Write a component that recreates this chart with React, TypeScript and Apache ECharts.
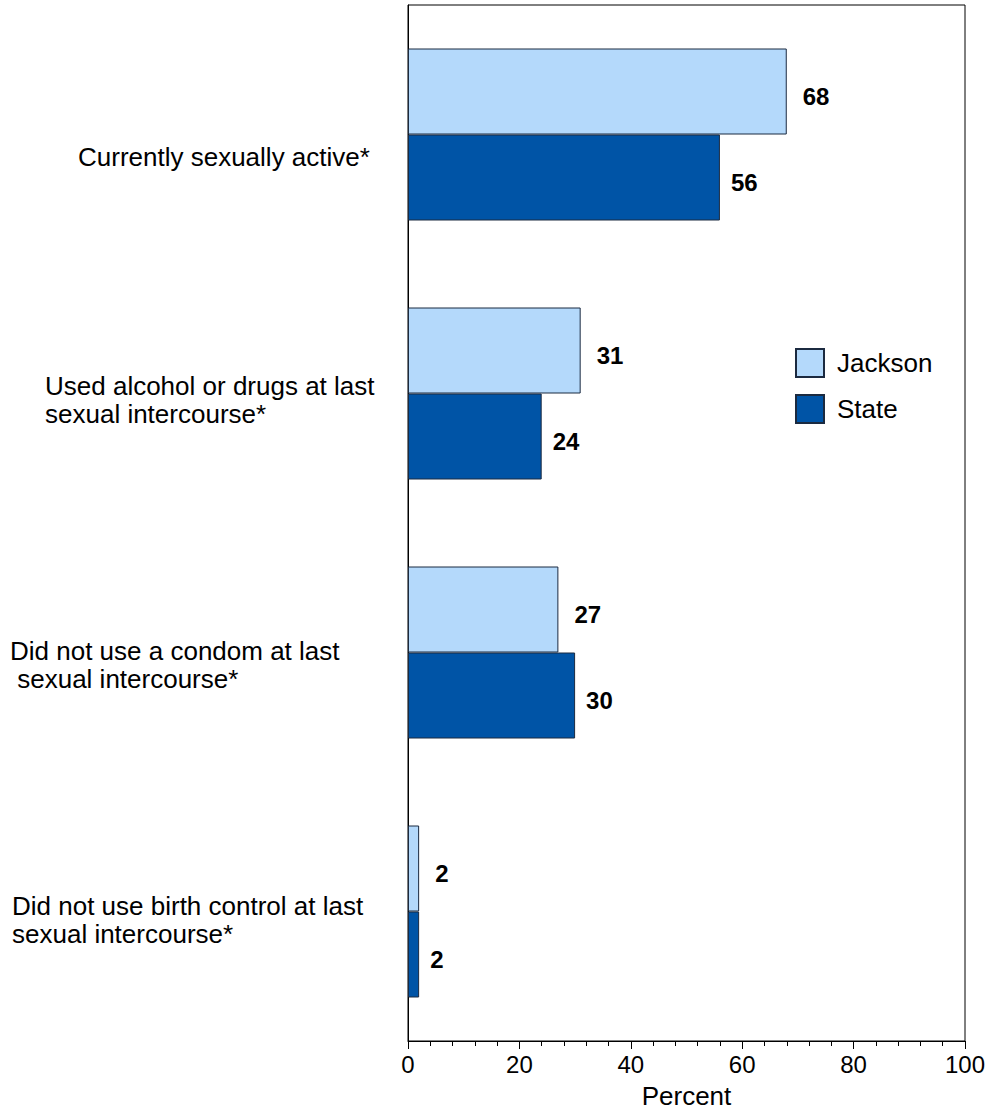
import React, { useEffect, useRef } from "react";
import * as echarts from "echarts";

const categories = [
  "Currently sexually active*",
  "Used alcohol or drugs at last\nsexual intercourse*",
  "Did not use a condom at last\n sexual intercourse*",
  "Did not use birth control at last\nsexual intercourse*",
];
const jacksonValues = [68, 31, 27, 2];
const stateValues = [56, 24, 30, 2];
const seriesNames = ["Jackson", "State"];
const xTicks = [0, 20, 40, 60, 80, 100];

// layout only (pixel positions of the category label blocks: left, vertical centre)
const labelLayout = [
  [78, 157],
  [45, 400],
  [10, 665],
  [12, 920],
];
const LINE_H = 28;

const FONT = "'Liberation Sans', Arial, sans-serif";
const LIGHT = "#b4d9fb";
const DARK = "#0054a6";
const BORDER = "#1b2a40";

export default function App() {
  const ref = useRef<HTMLDivElement>(null);
  useEffect(() => {
    if (!ref.current) return;
    const chart = echarts.init(ref.current, null, { renderer: "svg" });
    const labelStyle = (dist: number) => ({
      show: true,
      position: "right",
      distance: dist,
      offset: [0, 5],
      fontSize: 24,
      fontWeight: "bold",
      color: "#000",
      fontFamily: FONT,
    });
    chart.setOption({
      animation: false,
      textStyle: { fontFamily: FONT },
      grid: {
        left: 408,
        right: 33,
        top: 5,
        bottom: 72,
        outerBoundsMode: "none",
        containLabel: false,
        show: true,
        borderColor: "#000",
        borderWidth: 1,
        backgroundColor: "#fff",
      },
      legend: {
        orient: "vertical",
        left: 795,
        top: 348,
        padding: 0,
        itemWidth: 28,
        itemHeight: 28,
        itemGap: 16,
        icon: "rect",
        data: seriesNames,
        textStyle: {
          fontSize: 26,
          color: "#000",
          fontFamily: FONT,
          padding: [0, 0, 0, 8],
        },
      },
      xAxis: {
        type: "value",
        min: xTicks[0],
        max: xTicks[xTicks.length - 1],
        interval: xTicks[1] - xTicks[0],
        name: "Percent",
        nameLocation: "middle",
        nameGap: 42,
        nameTextStyle: { fontSize: 26, color: "#000", fontFamily: FONT },
        axisLine: { show: true, lineStyle: { color: "#000", width: 1 } },
        axisTick: { show: true, length: 8, lineStyle: { color: "#000" } },
        minorTick: { show: true, splitNumber: 5, length: 5, lineStyle: { color: "#000" } },
        axisLabel: { fontSize: 24, color: "#000", margin: 11, fontFamily: FONT },
        splitLine: { show: false },
      },
      yAxis: {
        type: "category",
        data: categories,
        inverse: true,
        axisLine: { show: true, lineStyle: { color: "#000", width: 1 } },
        axisTick: { show: false },
        axisLabel: { show: false },
        splitLine: { show: false },
      },
      series: [
        {
          name: seriesNames[0],
          type: "bar",
          data: jacksonValues,
          barWidth: 86,
          barGap: "0%",
          itemStyle: { color: LIGHT, borderColor: BORDER, borderWidth: 1 },
          label: labelStyle(16),
        },
        {
          name: seriesNames[1],
          type: "bar",
          data: stateValues,
          barWidth: 86,
          barGap: "0%",
          itemStyle: { color: DARK, borderColor: BORDER, borderWidth: 1 },
          label: labelStyle(11),
        },
      ],
      graphic: categories.map((c, i) => {
        const lines = c.split("\n").length;
        return {
          type: "text",
          left: labelLayout[i][0],
          top: labelLayout[i][1] - (lines * LINE_H) / 2,
          style: {
            text: c,
            fontSize: 26,
            lineHeight: LINE_H,
            fill: "#000",
            fontFamily: FONT,
            align: "left",
          },
        };
      }),
    });
    return () => chart.dispose();
  }, []);
  return (
    <div
      ref={ref}
      style={{ position: "fixed", left: 0, top: 0, width: 998, height: 1113, background: "#fff" }}
    />
  );
}
